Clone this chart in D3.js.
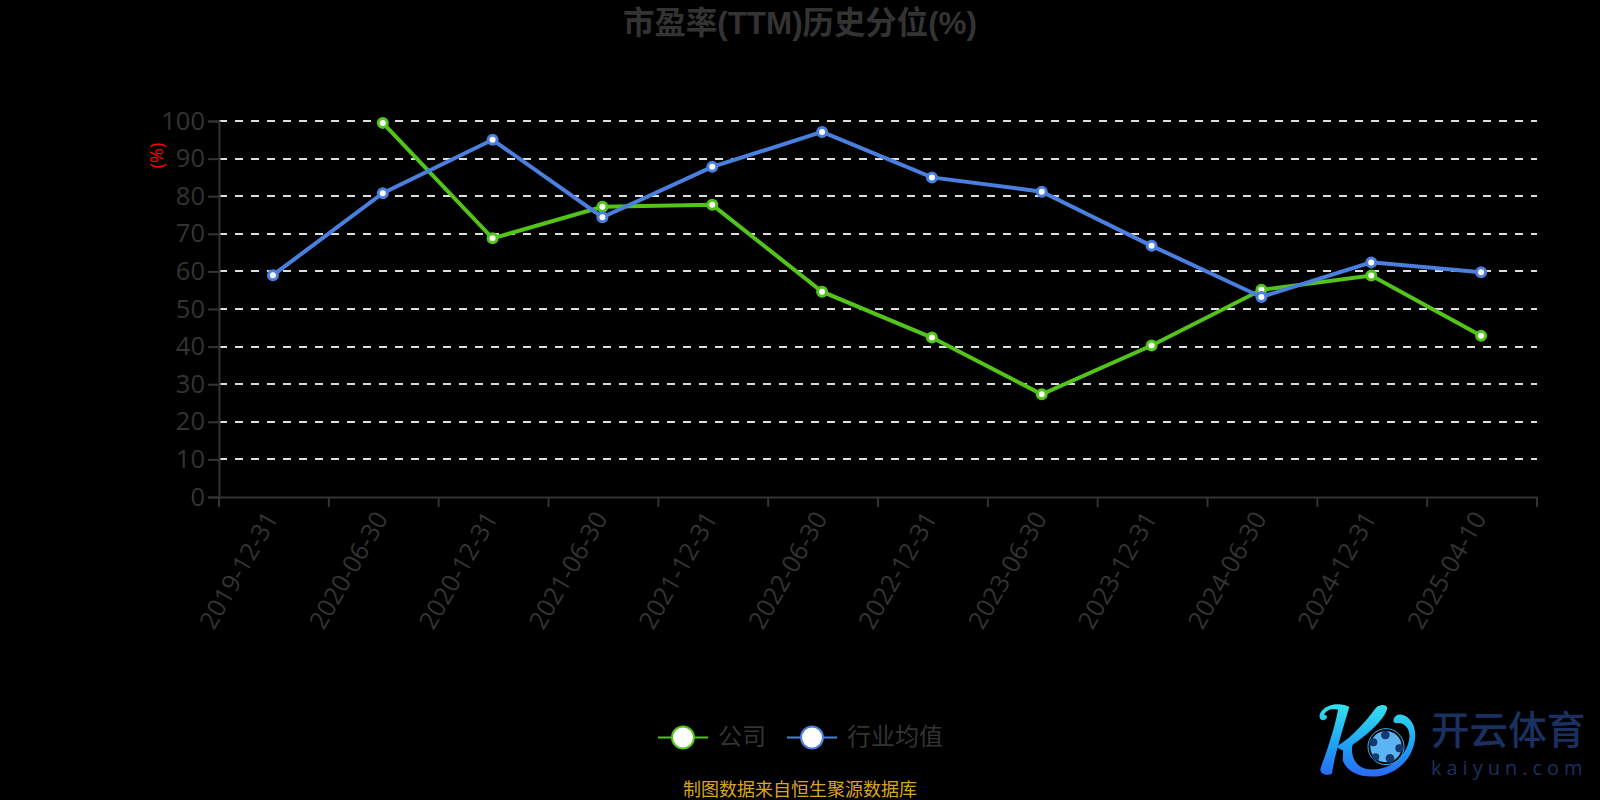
<!DOCTYPE html>
<html>
<head>
<meta charset="utf-8">
<script src="https://cdn.jsdelivr.net/npm/d3@7"></script>
<style>
  html, body { margin: 0; padding: 0; background: #000; }
  svg { display: block; }
  text { font-family: "Open Sans", "Noto Sans CJK SC", sans-serif; }
  .cjk { font-family: "Noto Sans CJK SC", sans-serif; }
  .title { font-family: "Liberation Sans", "Noto Sans CJK SC", sans-serif; }
</style>
</head>
<body>
<svg width="1600" height="800"></svg>
<script>
// values
let dates = ["2019-12-31", "2020-06-30", "2020-12-31", "2021-06-30", "2021-12-31", "2022-06-30",
  "2022-12-31", "2023-06-30", "2023-12-31", "2024-06-30", "2024-12-31", "2025-04-10"];
let company = [null, 99.5, 68.8, 77.2, 77.7, 54.6, 42.4, 27.3, 40.3, 55.1, 58.9, 42.9];
let industry = [59, 80.8, 95, 74.4, 87.8, 97.1, 85, 81.2, 66.8, 53.2, 62.4, 59.8];
let yTicks = [0, 10, 20, 30, 40, 50, 60, 70, 80, 90, 100];
let seriesNames = ["公司", "行业均值"];
let seriesColors = ["#52c41a", "#4a7fe0"];

let svg = d3.select("svg");

let margin = { top: 121, right: 63, bottom: 303, left: 219 };
let plotWidth = 1600 - margin.left - margin.right;
let plotHeight = 800 - margin.top - margin.bottom;

let xScale = d3.scaleBand().domain(dates).range([0, plotWidth]);
let yScale = d3.scaleLinear().domain([0, 100]).range([plotHeight, 0]);

let axisColor = "#333";

// title
svg.append("text")
  .attr("class", "title")
  .attr("x", 800)
  .attr("y", 34)
  .attr("text-anchor", "middle")
  .attr("font-size", 31.4)
  .attr("font-weight", "bold")
  .attr("fill", axisColor)
  .text("市盈率(TTM)历史分位(%)");

let plot = svg.append("g")
  .attr("transform", "translate(" + margin.left + "," + margin.top + ")");

// dashed grid
plot.append("g")
  .selectAll("line")
  .data(yTicks.filter(d => d > 0))
  .join("line")
  .attr("x1", 0)
  .attr("x2", plotWidth)
  .attr("y1", d => Math.round(yScale(d)))
  .attr("y2", d => Math.round(yScale(d)))
  .attr("stroke", "#ddd")
  .attr("stroke-width", 2)
  .attr("stroke-dasharray", "8,8");

// y axis
let yAxis = d3.axisLeft(yScale).tickValues(yTicks).tickSize(11).tickPadding(3);
let yGroup = plot.append("g").call(yAxis);
yGroup.selectAll("path, line").attr("stroke", axisColor).attr("stroke-width", 2);
yGroup.selectAll("text")
  .attr("fill", axisColor)
  .attr("font-size", 25.5);

// y axis name
svg.append("text")
  .attr("transform", "translate(163,155.5) rotate(-90)")
  .attr("text-anchor", "middle")
  .attr("font-size", 18)
  .attr("fill", "#f00")
  .text("(%)");

// x axis, ticks sit on the band edges
let xAxis = d3.axisBottom(xScale).tickSize(0).tickPadding(0);
let xGroup = plot.append("g")
  .attr("transform", "translate(0," + plotHeight + ")")
  .call(xAxis);
xGroup.select("path").attr("stroke", axisColor).attr("stroke-width", 2);
xGroup.selectAll("text")
  .attr("fill", axisColor)
  .attr("font-size", 25)
  .attr("text-anchor", "end")
  .attr("dy", 0)
  .attr("transform", "translate(5,21) rotate(-60)");
xGroup.selectAll("line.edge")
  .data(d3.range(dates.length + 1))
  .join("line")
  .attr("class", "edge")
  .attr("x1", i => i * xScale.step())
  .attr("x2", i => i * xScale.step())
  .attr("y1", 0)
  .attr("y2", 10)
  .attr("stroke", axisColor)
  .attr("stroke-width", 2);

// lines and points
let xPos = i => xScale(dates[i]) + xScale.bandwidth() / 2 - 1;
let line = d3.line()
  .defined(d => d != null)
  .x((d, i) => xPos(i))
  .y(d => yScale(d));

[company, industry].forEach((values, s) => {
  plot.append("path")
    .datum(values)
    .attr("fill", "none")
    .attr("stroke", seriesColors[s])
    .attr("stroke-width", 4)
    .attr("d", line);
  plot.append("g")
    .selectAll("circle")
    .data(values.map((v, i) => ({ v: v, i: i })).filter(d => d.v != null))
    .join("circle")
    .attr("cx", d => xPos(d.i))
    .attr("cy", d => yScale(d.v))
    .attr("r", 4.5)
    .attr("fill", "#fff")
    .attr("stroke", seriesColors[s])
    .attr("stroke-width", 3);
});

// legend
let legendX = [658, 787];
seriesNames.forEach((name, s) => {
  let g = svg.append("g").attr("transform", "translate(" + legendX[s] + ",737.5)");
  g.append("line")
    .attr("x1", 0).attr("x2", 50)
    .attr("stroke", seriesColors[s]).attr("stroke-width", 2);
  g.append("circle")
    .attr("cx", 25).attr("r", 11)
    .attr("fill", "#fff")
    .attr("stroke", seriesColors[s]).attr("stroke-width", 2);
  g.append("text")
    .attr("class", "cjk")
    .attr("x", 60).attr("y", 7)
    .attr("font-size", 24)
    .attr("fill", axisColor)
    .text(name);
});

// source note
svg.append("text")
  .attr("class", "cjk")
  .attr("x", 800)
  .attr("y", 796)
  .attr("text-anchor", "middle")
  .attr("font-size", 18)
  .attr("fill", "#daa520")
  .text("制图数据来自恒生聚源数据库");

// watermark logo
let defs = svg.append("defs");
let grad = defs.append("linearGradient")
  .attr("id", "logoGrad")
  .attr("gradientUnits", "userSpaceOnUse")
  .attr("x1", 0).attr("y1", 25).attr("x2", 0).attr("y2", 245);
grad.append("stop").attr("offset", "0%").attr("stop-color", "#34e4ec");
grad.append("stop").attr("offset", "55%").attr("stop-color", "#1ea4f5");
grad.append("stop").attr("offset", "100%").attr("stop-color", "#2a68f5");

let logo = svg.append("g").attr("transform", "translate(1310,695) scale(0.3333)");
let logoPaths = [
  "M118,36 C95,22 50,24 32,52 C22,70 35,82 48,72 C54,66 50,58 42,60 C48,46 62,40 84,44 C74,100 50,170 32,218 C26,238 52,244 66,236 C72,190 90,130 118,36 Z",
  "M78,155 C130,125 170,75 198,38 C210,26 232,28 232,40 C225,72 170,125 100,168 Z",
  "M100,160 C108,150 118,146 128,148 C120,180 135,215 170,222 C230,232 290,190 298,130 C302,100 280,78 258,85 C250,85 246,72 258,62 C272,52 300,62 312,95 C328,150 290,225 215,242 C160,252 110,235 98,195 Z"
];
logo.selectAll("path")
  .data(logoPaths)
  .join("path")
  .attr("fill", "url(#logoGrad)")
  .attr("d", d => d);
logo.append("circle")
  .attr("cx", 228).attr("cy", 155).attr("r", 54)
  .attr("fill", "#000")
  .attr("stroke", "#34b6f0")
  .attr("stroke-width", 3);
logo.append("circle")
  .attr("cx", 228).attr("cy", 155).attr("r", 47)
  .attr("fill", "#5cb4f2");
[[226, 120, 13], [268, 160, 12], [190, 142, 12], [240, 190, 13], [197, 186, 11]].forEach(d => {
  logo.append("circle")
    .attr("cx", d[0]).attr("cy", d[1]).attr("r", d[2])
    .attr("fill", "#123a70");
});

svg.append("text")
  .attr("class", "cjk")
  .attr("x", 1431)
  .attr("y", 744)
  .attr("font-size", 38.6)
  .attr("font-weight", 500)
  .attr("fill", "#1a3060")
  .text("开云体育");
svg.append("text")
  .attr("x", 1431)
  .attr("y", 775)
  .attr("font-size", 20)
  .attr("letter-spacing", 5)
  .attr("fill", "#1a3060")
  .text("kaiyun.com");
</script>
</body>
</html>
